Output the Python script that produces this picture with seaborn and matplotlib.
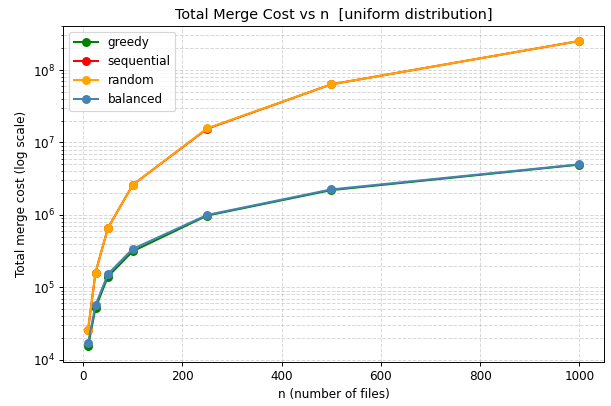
import pandas as pd
import numpy as np
import matplotlib
matplotlib.use("Agg")
import matplotlib.pyplot as plt
import seaborn as sns

# n values (number of files)
n_values = [10, 25, 50, 100, 250, 500, 1000]

# total merge cost per strategy
greedy = [1.53e4, 5.2e4, 1.41e5, 3.15e5, 9.8e5, 2.2e6, 4.95e6]
sequential = [2.6e4, 1.6e5, 6.6e5, 2.6e6, 1.55e7, 6.35e7, 2.52e8]
random_cost = [2.6e4, 1.6e5, 6.6e5, 2.6e6, 1.57e7, 6.35e7, 2.52e8]
balanced = [1.72e4, 5.7e4, 1.53e5, 3.4e5, 1.0e6, 2.25e6, 5.0e6]

strategies = ['greedy', 'sequential', 'random', 'balanced']
colors = {'greedy': 'green', 'sequential': 'red', 'random': 'orange', 'balanced': 'steelblue'}

rows = []
for name, vals in zip(strategies, [greedy, sequential, random_cost, balanced]):
    for n, v in zip(n_values, vals):
        rows.append({'n': n, 'cost': v, 'strategy': name})
df = pd.DataFrame(rows)

dpi = 86
fig, ax = plt.subplots(figsize=(611 / dpi, 406 / dpi), dpi=dpi)
fig.subplots_adjust(left=63.5 / 611, right=604 / 611, top=1 - 25.7 / 406, bottom=1 - 361.7 / 406)

for name in strategies:
    sub = df[df['strategy'] == name]
    sns.lineplot(data=sub, x='n', y='cost', ax=ax, color=colors[name], marker='o',
                 markersize=7.5, markeredgewidth=0, linewidth=1.7, label=name)

ax.set_yscale('log')
ax.set_title('Total Merge Cost vs n  [uniform distribution]')
ax.set_xlabel('n (number of files)')
ax.set_ylabel('Total merge cost (log scale)')
ax.grid(True, which='both', linestyle='--', alpha=0.5)
ax.legend(loc='upper left')

plt.savefig('out.png', dpi=dpi)
